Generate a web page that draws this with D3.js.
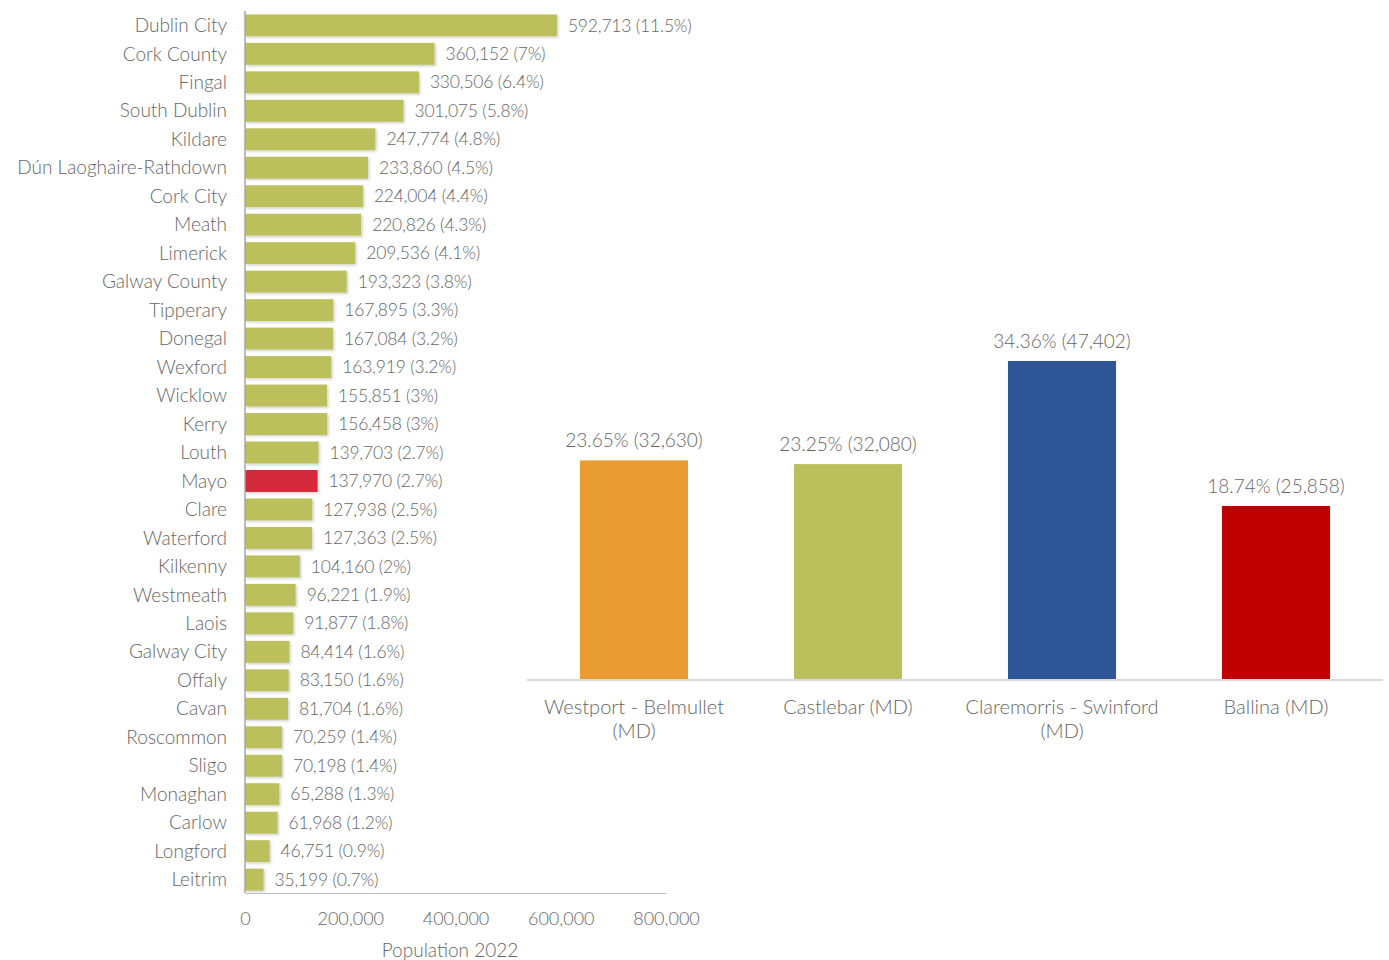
<!DOCTYPE html>
<html><head><meta charset="utf-8">
<script src="https://cdn.jsdelivr.net/npm/d3@7"></script>
<style>
body{margin:0;background:#fff;}
text{font-family:Lato, "Open Sans", sans-serif;font-weight:300;fill:#666;}
</style></head>
<body>
<svg id="c" width="1389" height="960"></svg>
<script>
const counties = ["Dublin City","Cork County","Fingal","South Dublin","Kildare","Dún Laoghaire-Rathdown","Cork City","Meath","Limerick","Galway County","Tipperary","Donegal","Wexford","Wicklow","Kerry","Louth","Mayo","Clare","Waterford","Kilkenny","Westmeath","Laois","Galway City","Offaly","Cavan","Roscommon","Sligo","Monaghan","Carlow","Longford","Leitrim"];
const population = [592713,360152,330506,301075,247774,233860,224004,220826,209536,193323,167895,167084,163919,155851,156458,139703,137970,127938,127363,104160,96221,91877,84414,83150,81704,70259,70198,65288,61968,46751,35199];
const popShare = ["11.5%","7%","6.4%","5.8%","4.8%","4.5%","4.4%","4.3%","4.1%","3.8%","3.3%","3.2%","3.2%","3%","3%","2.7%","2.7%","2.5%","2.5%","2%","1.9%","1.8%","1.6%","1.6%","1.6%","1.4%","1.4%","1.3%","1.2%","0.9%","0.7%"];
const xTicks = [0,200000,400000,600000,800000];
const districts = [["Westport - Belmullet","(MD)"],["Castlebar (MD)"],["Claremorris - Swinford","(MD)"],["Ballina (MD)"]];
const districtPop = [32630,32080,47402,25858];
const districtShare = ["23.65%","23.25%","34.36%","18.74%"];
const districtColors = ["#E89C31","#BBC05D","#2E5596","#C00000"];

const svg = d3.select("#c");
const defs = svg.append("defs");
const f = defs.append("filter").attr("id","sh").attr("x","-10%").attr("y","-20%").attr("width","130%").attr("height","160%");
f.append("feDropShadow").attr("dx",1.5).attr("dy",1.5).attr("stdDeviation",1).attr("flood-color","#000").attr("flood-opacity",0.18);

// Left chart
const x = d3.scaleLinear().domain([0,800000]).range([245,666]);
const y = d3.scaleBand().domain(counties).range([11,894]).paddingInner(0.23).paddingOuter(0.12);
const L = svg.append("g");
L.selectAll("rect.b").data(counties).join("rect")
  .attr("x",x(0)).attr("y",d=>y(d)).attr("height",y.bandwidth())
  .attr("width",(d,i)=>x(population[i])-x(0))
  .attr("fill",d=>d==="Mayo"?"#D22B3A":"#BBC05D")
  .attr("filter","url(#sh)");
const fmt = d3.format(",");
L.selectAll("text.v").data(counties).join("text")
  .attr("x",(d,i)=>x(population[i])+11).attr("y",d=>y(d)+y.bandwidth()/2)
  .attr("dy","0.35em").style("font-size","17.5px").style("letter-spacing","-0.2px")
  .text((d,i)=>`${fmt(population[i])} (${popShare[i]})`);
L.selectAll("text.c").data(counties).join("text")
  .attr("x",227).attr("y",d=>y(d)+y.bandwidth()/2)
  .attr("dy","0.35em").attr("text-anchor","end").style("font-size","19px")
  .text(d=>d);
// axes lines
L.append("line").attr("x1",245).attr("x2",245).attr("y1",11).attr("y2",893).attr("stroke","#A6A6A6").attr("stroke-width",1.5);
const xAxis = L.append("g").attr("transform","translate(0,893)")
  .call(d3.axisBottom(x).tickValues(xTicks).tickFormat(fmt).tickSize(0).tickPadding(19));
xAxis.select(".domain").attr("stroke","#BFBFBF");
xAxis.selectAll("text").style("font-size","18px").style("font-family","Lato").attr("fill","#666");
L.append("text").attr("x",450).attr("y",957).attr("text-anchor","middle").style("font-size","19px").text("Population 2022");

// Right chart
const xb = d3.scaleBand().domain(d3.range(districts.length)).range([527,1383]).paddingInner(0.495).paddingOuter(0.2475);
const yb = d3.scaleLinear().domain([0,50000]).range([680,680-336.5]);
const R = svg.append("g");
R.selectAll("rect").data(districtPop).join("rect")
  .attr("x",(d,i)=>xb(i)).attr("width",xb.bandwidth())
  .attr("y",d=>yb(d)).attr("height",d=>yb(0)-yb(d))
  .attr("fill",(d,i)=>districtColors[i]);
R.selectAll("text.l").data(districtPop).join("text")
  .attr("x",(d,i)=>xb(i)+xb.bandwidth()/2).attr("y",d=>yb(d)-13)
  .attr("text-anchor","middle").style("font-size","19px")
  .text((d,i)=>`${districtShare[i]} (${fmt(d)})`);
R.append("line").attr("x1",527).attr("x2",1383).attr("y1",680).attr("y2",680).attr("stroke","#D9D9D9").attr("stroke-width",2);
districts.forEach((lines,i)=>{
  const t = R.append("text").attr("x",xb(i)+xb.bandwidth()/2).attr("y",714).attr("text-anchor","middle").style("font-size","20px");
  lines.forEach((s,j)=>t.append("tspan").attr("x",xb(i)+xb.bandwidth()/2).attr("dy",j?24:0).text(s));
});
</script>
</body></html>
